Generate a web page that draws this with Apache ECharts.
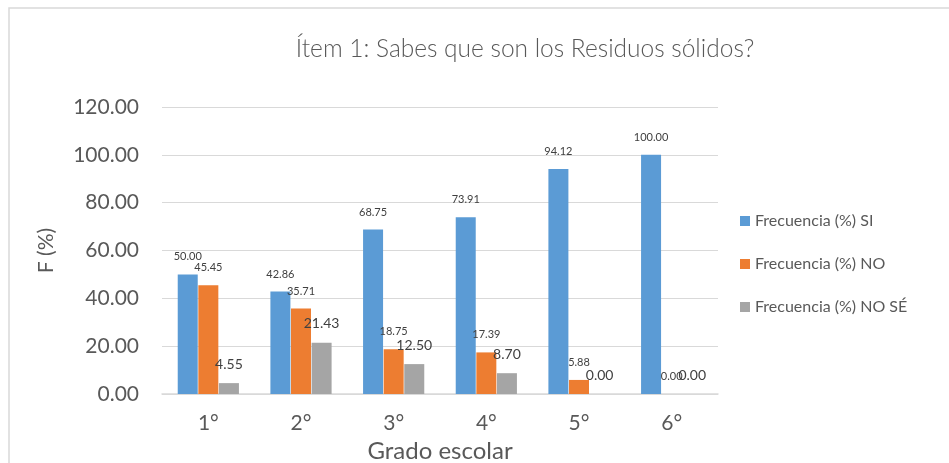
<!DOCTYPE html>
<html>
<head>
<meta charset="utf-8">
<script src="https://cdn.jsdelivr.net/npm/echarts@6/dist/echarts.min.js"></script>
<style>
  html, body { margin: 0; padding: 0; background: #fff; }
  #chart { width: 949px; height: 463px; }
</style>
</head>
<body>
<div id="chart"></div>
<script>
const grades = ["1°", "2°", "3°", "4°", "5°", "6°"];
const freqSi = [50.00, 42.86, 68.75, 73.91, 94.12, 100.00];
const freqNo = [45.45, 35.71, 18.75, 17.39, 5.88, 0.00];
const freqNoSe = [4.55, 21.43, 12.50, 8.70, 0.00, 0.00];

const FONT = "Lato";
const TEXT = "#595959";

function barSeries(name, data, color, labelSize) {
  return {
    name,
    type: "bar",
    data,
    barWidth: 20,
    barGap: "3%",
    itemStyle: { color },
    label: {
      show: true,
      position: "top",
      distance: 12,
      fontFamily: FONT,
      fontSize: labelSize,
      color: "#404040",
      formatter: (p) => p.value.toFixed(2)
    }
  };
}

const chart = echarts.init(document.getElementById("chart"));
chart.setOption({
  backgroundColor: "#fff",
  animation: false,
  graphic: [
    {
      type: "rect",
      shape: { x: 9, y: 8, width: 980, height: 480 },
      style: { fill: "none", stroke: "#d9d9d9", lineWidth: 1.5 },
      silent: true
    }
  ],
  title: {
    text: "Ítem 1: Sabes que son los Residuos sólidos?",
    left: 520,
    textAlign: "center",
    top: 32,
    textStyle: { fontFamily: FONT, fontWeight: 300, fontSize: 24.5, color: TEXT }
  },
  legend: {
    orient: "vertical",
    left: 735,
    top: 208,
    itemWidth: 10,
    itemHeight: 10,
    itemGap: 27,
    icon: "rect",
    textStyle: { fontFamily: FONT, fontSize: 16, color: TEXT },
    data: ["Frecuencia (%) SI", "Frecuencia (%) NO", "Frecuencia (%) NO SÉ"]
  },
  grid: {
    left: 162, right: 231, top: 107, bottom: 69,
    containLabel: false,
    outerBoundsMode: "none"
  },
  xAxis: {
    type: "category",
    data: grades,
    name: "Grado escolar",
    nameLocation: "middle",
    nameGap: 42,
    nameTextStyle: { fontFamily: FONT, fontSize: 24, color: TEXT },
    axisTick: { show: false },
    axisLine: { lineStyle: { color: "#d9d9d9", width: 1.5 } },
    axisLabel: { fontFamily: FONT, fontSize: 21, color: TEXT, margin: 19 }
  },
  yAxis: {
    type: "value",
    min: 0,
    max: 120,
    interval: 20,
    name: "F (%)",
    nameLocation: "middle",
    nameGap: 105,
    nameTextStyle: { fontFamily: FONT, fontSize: 21, color: TEXT },
    axisLine: { show: false },
    axisTick: { show: false },
    axisLabel: {
      fontFamily: FONT,
      fontSize: 21,
      color: TEXT,
      margin: 23,
      formatter: (v) => v.toFixed(2)
    },
    splitLine: { lineStyle: { color: "#d9d9d9", width: 1 } }
  },
  series: [
    barSeries("Frecuencia (%) SI", freqSi, "#5b9bd5", 11),
    barSeries("Frecuencia (%) NO", freqNo, "#ed7d31", 11),
    barSeries("Frecuencia (%) NO SÉ", freqNoSe, "#a5a5a5", 14)
  ]
});
</script>
</body>
</html>
